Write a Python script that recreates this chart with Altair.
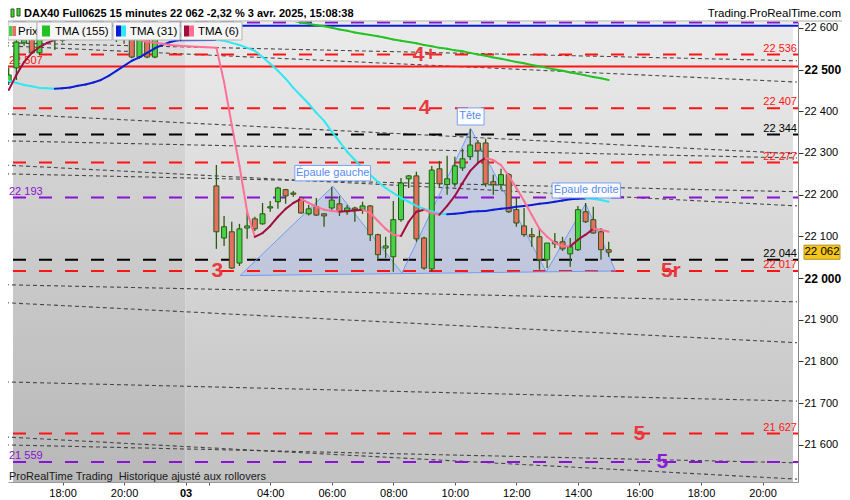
import altair as alt
import pandas as pd

# ---------------- data ----------------
# x axis: compressed session hours (0 = start of 03 session, 01:15); prev day bars before 0
prev_times = [-5.75 + 0.25 * k for k in range(23)]
day_times = [1.0 + 0.25 * k for k in range(52)]   # 02:15 ... 15:00 (15 min bars)

prev_open = [22470, 22504, 22564, 22590, 22540, 22590, 22595, 22570, 22580, 22595, 22590, 22598,
             22588, 22592, 22584, 22580, 22590, 22530, 22592, 22530, 22590, 22585, 22588]
prev_close = [22487, 22566, 22571, 22540, 22595, 22600, 22585, 22580, 22595, 22590, 22598, 22588,
              22592, 22584, 22580, 22576, 22530, 22592, 22530, 22590, 22585, 22588, 22580]
prev_high = [22504, 22571, 22590, 22600, 22605, 22608, 22600, 22595, 22605, 22605, 22608, 22606,
             22600, 22598, 22590, 22592, 22600, 22600, 22600, 22600, 22600, 22598, 22596]
prev_low = [22463, 22475, 22557, 22537, 22535, 22582, 22547, 22565, 22575, 22580, 22582, 22580,
            22578, 22576, 22566, 22562, 22527, 22527, 22527, 22527, 22575, 22576, 22574]

day_open = [22221, 22096, 22111, 22036, 22120, 22142, 22130, 22168, 22183, 22212,
            22204, 22190, 22154, 22171, 22154, 22168, 22178, 22159, 22168, 22164,
            22173, 22104, 22072, 22051, 22140, 22238, 22245, 22096, 22022, 22262,
            22224, 22226, 22264, 22291, 22324, 22324, 22231, 22224, 22248, 22164,
            22125, 22104, 22099, 22044, 22087, 22087, 22058, 22068, 22159, 22140,
            22111, 22068]
day_close = [22111, 22123, 22024, 22118, 22125, 22118, 22154, 22171, 22216, 22197,
             22201, 22156, 22166, 22151, 22149, 22187, 22159, 22168, 22164, 22173,
             22104, 22056, 22077, 22140, 22228, 22245, 22094, 22024, 22259, 22226,
             22238, 22269, 22286, 22319, 22305, 22226, 22224, 22248, 22159, 22132,
             22104, 22099, 22044, 22084, 22082, 22070, 22075, 22164, 22135, 22108,
             22068, 22062]
day_high = [22271, 22149, 22135, 22130, 22161, 22147, 22180, 22185, 22219, 22214,
            22209, 22195, 22175, 22192, 22156, 22219, 22197, 22175, 22171, 22183,
            22175, 22106, 22099, 22185, 22240, 22247, 22255, 22099, 22269, 22281,
            22293, 22291, 22310, 22358, 22331, 22334, 22248, 22262, 22252, 22192,
            22168, 22120, 22120, 22084, 22108, 22099, 22096, 22173, 22180, 22171,
            22120, 22087]
day_low = [22070, 22077, 22022, 22029, 22094, 22113, 22128, 22159, 22166, 22178,
           22195, 22154, 22150, 22149, 22123, 22164, 22149, 22152, 22135, 22154,
           22089, 22041, 22048, 22015, 22135, 22216, 22087, 22020, 22015, 22219,
           22200, 22219, 22257, 22283, 22276, 22219, 22200, 22212, 22156, 22123,
           22099, 22075, 22020, 22024, 22072, 22065, 22027, 22065, 22132, 22106,
           22044, 22051]

tma6_prev = [22451, 22487, 22518, 22540, 22554, 22564, 22571, 22576, 22581, 22583, 22586, 22586,
             22586, 22583, 22581, 22578, 22576, 22571, 22566, 22564, 22562, 22559, 22557]
tma6_day = [22552, 22470, 22367, 22269, 22159, 22099, 22108, 22125, 22147, 22166,
            22180, 22190, 22180, 22171, 22164, 22161, 22159, 22161, 22162, 22164,
            22156, 22137, 22118, 22104, 22101, 22135, 22159, 22164, 22156, 22152,
            22173, 22197, 22228, 22257, 22276, 22288, 22283, 22271, 22245, 22216,
            22185, 22151, 22118, 22099, 22084, 22077, 22076, 22092, 22104, 22118,
            22116, 22111]
tma31_prev = [22473, 22468, 22463, 22460, 22456, 22455, 22454, 22455, 22457, 22461, 22464, 22469,
              22475, 22485, 22497, 22509, 22521, 22529, 22540, 22551, 22559, 22566, 22570]
tma31_day = [22571, 22569, 22564, 22559, 22552, 22545, 22530, 22514, 22497, 22478,
             22456, 22437, 22418, 22396, 22377, 22351, 22327, 22303, 22283, 22264,
             22247, 22231, 22216, 22204, 22192, 22183, 22173, 22166, 22160, 22155,
             22153, 22154, 22156, 22159, 22160, 22161, 22164, 22166, 22168, 22171,
             22173, 22175, 22178, 22180, 22183, 22186, 22189, 22190, 22191, 22190,
             22187, 22183]
tma155_start = 10   # first visible day bar
tma155_day = [22617, 22613, 22610, 22606, 22604, 22600, 22596, 22593, 22589, 22586, 22583, 22580,
              22576, 22572, 22569, 22566, 22563, 22559, 22556, 22552, 22550, 22546, 22544, 22540,
              22536, 22533, 22529, 22526, 22522, 22518, 22515, 22511, 22508, 22504, 22500, 22497,
              22493, 22490, 22486, 22482, 22479, 22475]

# horizontal levels
level_price = [22613, 22605, 22536, 22507, 22407, 22344, 22277, 22193, 22044, 22017, 21627, 21559]
level_color = ["#8a12d2", "#0a1ed8", "#ff1414", "#ff1414", "#ff1414", "#000000", "#ff1414",
               "#8a12d2", "#000000", "#ff1414", "#ff1414", "#8a12d2"]
level_dashed = [True, False, True, False, True, True, True, True, True, True, True, True]
level_label = ["", "", "22 536", "22 507", "22 407", "22 344", "22 277", "22 193", "22 044",
               "22 017", "21 627", "21 559"]
level_side = ["", "", "right", "left", "right", "right", "right", "left", "right", "right",
              "right", "left"]

# big wave labels
wave_text = ["4+", "4", "3", "5r", "5", "5"]
wave_t = [7.77, 7.77, 1.03, 15.77, 14.75, 15.49]
wave_price = [22536, 22407, 22017, 22017, 21627, 21559]
wave_color = ["#e8393d", "#e8393d", "#e8393d", "#e8393d", "#e8393d", "#8a1ad6"]

# dotted trend lines (start at left edge, end at right edge)
trend_t0, trend_t1 = -5.87, 19.87
trend_p0 = [22564, 22557, 22394, 22329, 22271, 22250, 21984, 21941, 21751, 21619, 21600]
trend_p1 = [22521, 22470, 22298, 22288, 22173, 22207, 21943, 21845, 21705, 21518, 21557]

# head & shoulders pattern
hs_t = [1.77, 4.79, 7.03, 9.27, 11.72, 13.0, 13.97]
hs_p = [22006, 22220, 22012, 22358, 22015, 22178, 22017]
hs_base = [22006, 22009, 22012, 22013, 22015, 22016, 22017]
hs_label = ["Épaule gauche", "Tête", "Épaule droite"]
hs_label_t = [4.78, 9.25, 13.02]
hs_label_p = [22252, 22389, 22210]
hs_box_t0 = [3.55, 8.83, 11.91]
hs_box_t1 = [6.01, 9.70, 14.13]
hs_box_p0 = [22270, 22408, 22228]
hs_box_p1 = [22233, 22367, 22192]

last_price = 22062

tick_t = [-4, -2, 0, 0.75, 2.75, 4.75, 6.75, 8.75, 10.75, 12.75, 14.75, 16.75, 18.75]
tick_lab = ["18:00", "20:00", "03", "", "04:00", "06:00", "08:00", "10:00", "12:00", "14:00",
            "16:00", "18:00", "20:00"]
y_ticks = [21600, 21700, 21800, 21900, 22000, 22100, 22200, 22300, 22400, 22500, 22600]

# ---------------- styling ----------------
FONT = "Liberation Sans"
W, H = 790, 460
XS = alt.Scale(domain=[-5.61, 19.74], nice=False, zero=False)
YS = alt.Scale(domain=[21511, 22614], nice=False, zero=False)
WICK = "#2b5a10"
GREEN = "#46d246"
RED = "#e66e64"

label_expr = "".join(f"datum.value == {v} ? '{s}' : " for v, s in zip(tick_t, tick_lab)) + "''"
X_AXIS = alt.Axis(values=tick_t, labelExpr=label_expr, title=None, grid=False, orient="bottom",
                  tickSize=3, tickColor="#555555", domainColor="#999999", labelFont=FONT,
                  labelFontSize=11, labelColor="#000000", labelPadding=2, labelFlush=False,
                  labelOverlap=False,
                  labelFontWeight={"condition": {"test": "datum.value == 0", "value": "bold"},
                                   "value": "normal"})
Y_AXIS = alt.Axis(orient="right", values=y_ticks,
                  labelExpr="replace(format(datum.value, ','), ',', ' ')", title=None, grid=False,
                  tickSize=5, tickColor="#333333", domainColor="#888888", labelFont=FONT,
                  labelColor="#000000", labelPadding=1, labelFlush=False, labelOverlap=False,
                  labelFontSize={"condition": {"test": "datum.value % 500 === 0", "value": 12},
                                 "value": 11},
                  labelFontWeight={"condition": {"test": "datum.value % 500 === 0", "value": "bold"},
                                   "value": "normal"})


def X(f):
    return alt.X(f, type="quantitative", scale=XS, axis=X_AXIS)


def Y(f):
    return alt.Y(f, type="quantitative", scale=YS, axis=Y_AXIS)


one = pd.DataFrame({"k": [0]})


def px_rect(x0, x1, y0, y1, fill, stroke=None, sw=1):
    kw = dict(fill=fill)
    if stroke:
        kw.update(stroke=stroke, strokeWidth=sw)
    return alt.Chart(one).mark_rect(**kw).encode(
        x=alt.value(x0), x2=alt.value(x1), y=alt.value(y0), y2=alt.value(y1))


def px_text(x, y, s, **kw):
    return alt.Chart(one).mark_text(text=s, font=FONT, **kw).encode(
        x=alt.value(x), y=alt.value(y))


layers = []

# background regions with gradients
bg_prev = pd.DataFrame({"t0": [-5.61], "t1": [0.0]})
bg_day = pd.DataFrame({"t0": [0.0], "t1": [19.74]})
grad_prev = alt.Gradient(gradient="linear", x1=0, x2=0, y1=0, y2=1,
                         stops=[alt.GradientStop(color="#dedede", offset=0),
                                alt.GradientStop(color="#b8b8b8", offset=1)])
grad_day = alt.Gradient(gradient="linear", x1=0, x2=0, y1=0, y2=1,
                        stops=[alt.GradientStop(color="#ebebeb", offset=0),
                               alt.GradientStop(color="#c2c2c2", offset=1)])
layers.append(alt.Chart(bg_prev).mark_rect(fill=grad_prev).encode(
    x=X("t0"), x2="t1", y=alt.value(0), y2=alt.value(H)))
layers.append(alt.Chart(bg_day).mark_rect(fill=grad_day).encode(
    x=X("t0"), x2="t1", y=alt.value(0), y2=alt.value(H)))

# head & shoulders fill
hs_df = pd.DataFrame({"t": hs_t, "p": hs_p, "b": hs_base})
layers.append(alt.Chart(hs_df).mark_area(color="#8ca0f0", opacity=0.28).encode(
    x=X("t"), y=Y("p"), y2="b"))

# dotted trend lines
trend_df = pd.DataFrame({"t0": trend_t0, "t1": trend_t1, "p0": trend_p0, "p1": trend_p1})
layers.append(alt.Chart(trend_df).mark_rule(color="#3a3a3a", strokeWidth=1.1, strokeDash=[4, 3],
                                             clip=True, opacity=0.9).encode(
    x=X("t0"), x2="t1", y=Y("p0"), y2="p1"))

# horizontal levels
lev = pd.DataFrame({"price": level_price, "color": level_color, "dashed": level_dashed,
                    "label": level_label, "side": level_side})
layers.append(alt.Chart(lev[lev.dashed]).mark_rule(strokeWidth=2, strokeDash=[13, 13],
                                                   strokeDashOffset=8).encode(
    y=Y("price"), color=alt.Color("color:N", scale=None)))
layers.append(alt.Chart(lev[~lev.dashed]).mark_rule(strokeWidth=2).encode(
    y=Y("price"), color=alt.Color("color:N", scale=None)))
layers.append(alt.Chart(lev[lev.side == "right"]).mark_text(
    align="right", baseline="alphabetic", dy=-3, fontSize=11, font=FONT).encode(
    x=alt.value(789), y=Y("price"), text="label:N", color=alt.Color("color:N", scale=None)))
layers.append(alt.Chart(lev[lev.side == "left"]).mark_text(
    align="left", baseline="alphabetic", dy=-3, fontSize=11, font=FONT).encode(
    x=alt.value(1), y=Y("price"), text="label:N", color=alt.Color("color:N", scale=None)))

# pattern outline
layers.append(alt.Chart(hs_df).mark_line(color="#6f9cf8", strokeWidth=1).encode(
    x=X("t"), y=Y("p")))
base_df = pd.DataFrame({"t0": [hs_t[0]], "t1": [hs_t[-1]], "p0": [hs_base[0]], "p1": [hs_base[-1]]})
layers.append(alt.Chart(base_df).mark_rule(color="#6f9cf8", strokeWidth=1).encode(
    x=X("t0"), x2="t1", y=Y("p0"), y2="p1"))

# candles
candles = pd.DataFrame({
    "t": prev_times + day_times,
    "o": prev_open + day_open,
    "c": prev_close + day_close,
    "h": prev_high + day_high,
    "l": prev_low + day_low,
})
candles["col"] = [GREEN if c >= o else RED for o, c in zip(candles.o, candles.c)]
layers.append(alt.Chart(candles).mark_rule(color=WICK, strokeWidth=1.3, clip=True).encode(
    x=X("t"), y=Y("l"), y2="h"))
layers.append(alt.Chart(candles).mark_bar(size=5, stroke=WICK, strokeWidth=1, clip=True).encode(
    x=X("t"), y=Y("o"), y2="c", fill=alt.Fill("col:N", scale=None)))


# moving averages
def segments(times, vals, up, down):
    rows = []
    for k in range(len(vals) - 1):
        rows.append({"t": times[k], "p": vals[k], "t2": times[k + 1], "p2": vals[k + 1],
                     "c": up if vals[k + 1] >= vals[k] else down})
    return pd.DataFrame(rows)


all_times = prev_times + day_times
seg155 = segments(day_times[tma155_start:], tma155_day, "#22c322", "#22c322")
seg31 = segments(all_times, tma31_prev + tma31_day, "#0b1ed6", "#2ee8f4")
seg6 = segments(all_times, tma6_prev + tma6_day, "#a00f40", "#ff6f96")
for seg in (seg155, seg31, seg6):
    layers.append(alt.Chart(seg).mark_rule(strokeWidth=2, strokeCap="round", clip=True).encode(
        x=X("t"), x2="t2", y=Y("p"), y2="p2", color=alt.Color("c:N", scale=None)))

# pattern labels
lab_df = pd.DataFrame({"text": hs_label, "t": hs_label_t, "p": hs_label_p,
                       "bt0": hs_box_t0, "bt1": hs_box_t1, "bp0": hs_box_p0, "bp1": hs_box_p1})
layers.append(alt.Chart(lab_df).mark_rect(fill="#ffffff", stroke="#6f9cf8", strokeWidth=1,
                                          opacity=0.92).encode(
    x=X("bt0"), x2="bt1", y=Y("bp0"), y2="bp1"))
layers.append(alt.Chart(lab_df).mark_text(color="#5a8cf0", fontSize=11, font=FONT).encode(
    x=X("t"), y=Y("p"), text="text:N"))

# wave labels
wave_df = pd.DataFrame({"text": wave_text, "t": wave_t, "p": wave_price, "color": wave_color})
layers.append(alt.Chart(wave_df).mark_text(fontSize=21, fontWeight="bold", font=FONT,
                                           baseline="middle").encode(
    x=X("t"), y=Y("p"), text="text:N", color=alt.Color("color:N", scale=None)))

# price tag on the axis
tag_df = pd.DataFrame({"p": [last_price], "hi": [last_price + 17], "lo": [last_price - 17],
                       "txt": ["22 062"]})
layers.append(alt.Chart(tag_df).mark_rect(fill="#f6c61c", stroke="#b8962a", strokeWidth=1).encode(
    x=alt.value(796), x2=alt.value(832), y=Y("hi"), y2="lo"))
layers.append(alt.Chart(tag_df).mark_text(fontSize=11.5, font=FONT, color="#000000").encode(
    x=alt.value(814), y=Y("p"), text="txt:N"))

# footer text
layers.append(px_text(1, 455, "ProRealTime Trading\u00a0 Historique ajusté aux rollovers",
                      align="left", baseline="middle", fontSize=11, color="#1a1a1a"))

# legend (top left)
LEG_FILL, LEG_STROKE = "#f6f6f6", "#b4b4b4"
layers += [
    px_rect(0, 29, 0, 18, LEG_FILL, LEG_STROKE),
    px_rect(1, 4.5, 4, 14, GREEN), px_rect(4.5, 8, 4, 14, RED),
    px_text(10, 9.5, "Prix", align="left", baseline="middle", fontSize=11.5, color="#000"),
    px_rect(29, 104, 0, 18, LEG_FILL, LEG_STROKE),
    px_rect(34, 42, 3.5, 14.5, "#22c322"),
    px_text(47, 9.5, "TMA (155)", align="left", baseline="middle", fontSize=11.5, color="#000"),
    px_rect(105, 172, 0, 18, LEG_FILL, LEG_STROKE),
    px_rect(108, 113, 3.5, 14.5, "#0b1ed6"), px_rect(113, 118, 3.5, 14.5, "#2ee8f4"),
    px_text(122, 9.5, "TMA (31)", align="left", baseline="middle", fontSize=11.5, color="#000"),
    px_rect(173, 234, 0, 18, LEG_FILL, LEG_STROKE),
    px_rect(176, 181, 3.5, 14.5, "#a00f40"), px_rect(181, 186, 3.5, 14.5, "#ff6f96"),
    px_text(190, 9.5, "TMA (6)", align="left", baseline="middle", fontSize=11.5, color="#000"),
]

# header
layers += [
    alt.Chart(one).mark_rule(color="#a8a8a8", strokeWidth=1).encode(
        x=alt.value(0), x2=alt.value(834), y=alt.value(-1)),
    px_rect(3, 6, -13, -5, GREEN, WICK), px_rect(9, 12, -14, -6, GREEN, WICK),
    px_text(16, -8, "DAX40 Full0625 15 minutes 22 062 -2,32 % 3 avr. 2025, 15:08:38",
            align="left", baseline="middle", fontSize=11, fontWeight="bold", color="#000"),
    px_text(833, -8, "Trading.ProRealTime.com", align="right", baseline="middle",
            fontSize=11.5, color="#000"),
]

chart = alt.layer(*layers).properties(
    width=W, height=H,
    autosize=alt.AutoSizeParams(type="none"),
    padding={"left": 0, "top": 14, "right": 44, "bottom": 18},
    background="#ffffff",
).configure_view(stroke=None)

chart.save("out.html", embed_options={"renderer": "svg", "actions": False})
